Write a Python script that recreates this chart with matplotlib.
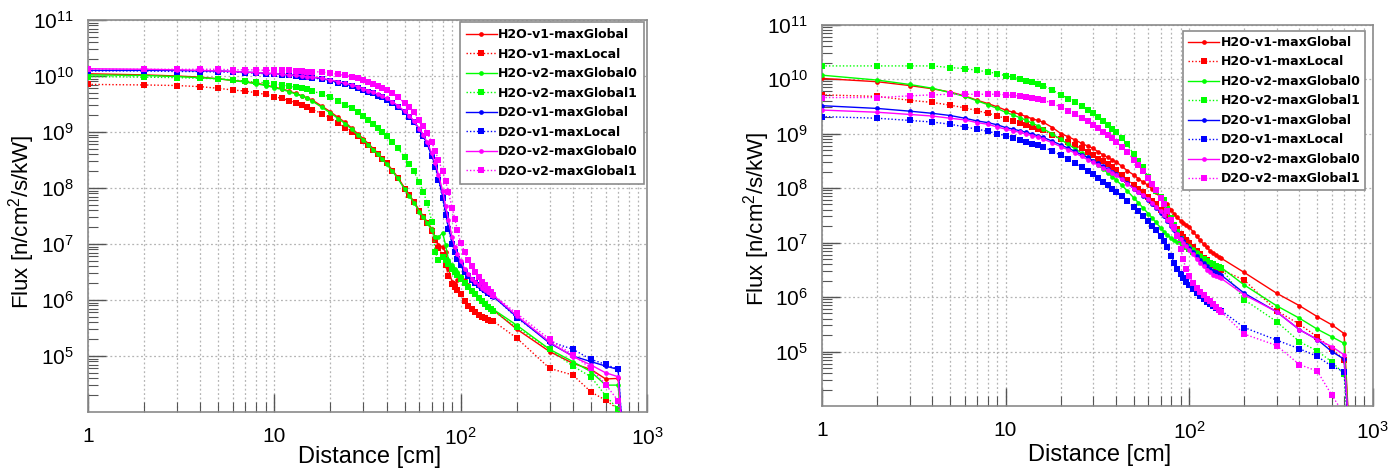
import numpy as np
import matplotlib
matplotlib.use('Agg')
import matplotlib.pyplot as plt
from matplotlib import font_manager as fm
from matplotlib.ticker import LogLocator, NullFormatter

names = {f.name for f in fm.fontManager.ttflist}
TF = 'Liberation Sans Narrow' if 'Liberation Sans Narrow' in names else 'Liberation Sans'
plt.rcParams['font.family'] = [TF, 'DejaVu Sans']
plt.rcParams['mathtext.fontset'] = 'custom'
plt.rcParams['mathtext.rm'] = TF
plt.rcParams['mathtext.it'] = TF
plt.rcParams['mathtext.bf'] = TF

# ---------------- data (log10 of flux in n/cm^2/s/kW) ----------------
distance_cm = [1, 2, 3, 4, 5, 6, 7, 8, 9, 10,
               11, 12, 13, 14, 15, 16,
               18, 20, 22, 24, 26, 28, 30, 32, 34, 36, 38, 40,
               43, 46, 50, 53, 56, 60, 63, 66, 70, 73, 76, 80, 83, 86, 90, 93, 96, 100,
               105, 110, 115, 120, 125, 130, 135, 140, 145, 150,
               200, 300, 400, 500, 600, 700,
               760]

series_labels = ['H2O-v1-maxGlobal', 'H2O-v1-maxLocal', 'H2O-v2-maxGlobal0', 'H2O-v2-maxGlobal1',
                 'D2O-v1-maxGlobal', 'D2O-v1-maxLocal', 'D2O-v2-maxGlobal0', 'D2O-v2-maxGlobal1']
series_colors = ['#ff0000', '#ff0000', '#00ff00', '#00ff00',
                 '#0000ff', '#0000ff', '#ff00ff', '#ff00ff']

x_tick_labels = ['1', '10', '$10^{2}$', '$10^{3}$']
y_tick_exponents = [5, 6, 7, 8, 9, 10, 11]

# ---- left panel ----
left_h2o_v1_maxGlobal = [10.04, 10.02, 10.00, 9.98, 9.95, 9.92, 9.90, 9.87, 9.84, 9.80,
    9.77, 9.73, 9.69, 9.65, 9.61, 9.57,
    9.46, 9.36, 9.26, 9.17, 9.07, 8.97, 8.88, 8.79, 8.70, 8.62, 8.53, 8.45,
    8.32, 8.19, 8.00, 7.88, 7.76, 7.60, 7.50, 7.40, 7.27, 7.12, 6.98, 6.95, 6.85, 6.55, 6.32, 6.28, 6.35, 6.40,
    6.36, 6.26, 6.17, 6.10, 6.04, 5.98, 5.93, 5.89, 5.85, 5.82,
    5.48, 5.08, 4.87, 4.76, 4.59, 4.60,
    3.0]
left_h2o_v1_maxLocal = [9.85, 9.84, 9.83, 9.81, 9.78, 9.75, 9.73, 9.70, 9.67, 9.63,
    9.60, 9.56, 9.52, 9.48, 9.44, 9.40,
    9.33, 9.25, 9.16, 9.08, 9.00, 8.92, 8.84, 8.76, 8.68, 8.60, 8.52, 8.44,
    8.31, 8.18, 7.99, 7.87, 7.75, 7.59, 7.48, 7.38, 7.24, 7.08, 6.92, 6.80, 6.62, 6.42, 6.28, 6.24, 6.18, 6.10,
    5.98, 5.90, 5.84, 5.78, 5.74, 5.70, 5.67, 5.65, 5.63, 5.62,
    5.32, 4.78, 4.66, 4.36, 4.21, 4.05,
    3.0]
left_h2o_v2_maxGlobal0 = [10.02, 10.01, 9.99, 9.97, 9.95, 9.92, 9.89, 9.86, 9.83, 9.79,
    9.76, 9.72, 9.68, 9.64, 9.60, 9.55,
    9.44, 9.34, 9.24, 9.15, 9.05, 8.95, 8.86, 8.77, 8.68, 8.60, 8.51, 8.43,
    8.30, 8.17, 7.98, 7.86, 7.74, 7.58, 7.48, 7.38, 7.25, 7.12, 7.12, 7.20, 6.98, 6.72, 6.62, 6.56, 6.50, 6.42,
    6.33, 6.25, 6.18, 6.12, 6.06, 6.00, 5.95, 5.90, 5.86, 5.83,
    5.55, 5.12, 4.90, 4.72, 4.48, 4.48,
    3.0]
left_h2o_v2_maxGlobal1 = [9.99, 9.98, 9.97, 9.96, 9.95, 9.93, 9.91, 9.89, 9.88, 9.86,
    9.84, 9.82, 9.80, 9.78, 9.76, 9.73,
    9.68, 9.62, 9.56, 9.49, 9.42, 9.35, 9.28, 9.21, 9.14, 9.07, 9.00, 8.93,
    8.82, 8.71, 8.55, 8.43, 8.30, 8.10, 7.93, 7.74, 7.40, 6.85, 6.72, 6.76, 6.72, 6.64, 6.55, 6.50, 6.44, 6.38,
    6.30, 6.23, 6.16, 6.10, 6.04, 5.98, 5.93, 5.88, 5.84, 5.80,
    5.51, 5.12, 4.82, 4.63, 4.29, 4.05,
    3.0]
left_d2o_v1_maxGlobal = [10.10, 10.10, 10.10, 10.09, 10.09, 10.08, 10.07, 10.06, 10.05, 10.04,
    10.03, 10.02, 10.01, 10.00, 9.99, 9.98,
    9.95, 9.92, 9.89, 9.86, 9.83, 9.80, 9.76, 9.73, 9.70, 9.66, 9.63, 9.59,
    9.53, 9.46, 9.36, 9.28, 9.19, 9.05, 8.93, 8.79, 8.58, 8.40, 8.18, 7.85, 7.55, 7.30, 7.02, 6.86, 6.74, 6.62,
    6.50, 6.42, 6.35, 6.30, 6.25, 6.20, 6.16, 6.12, 6.09, 6.06,
    5.70, 5.23, 5.00, 4.90, 4.82, 4.76,
    3.0]
left_d2o_v1_maxLocal = [10.09, 10.09, 10.08, 10.08, 10.07, 10.07, 10.06, 10.05, 10.04, 10.03,
    10.02, 10.01, 10.00, 9.99, 9.98, 9.97,
    9.94, 9.91, 9.88, 9.85, 9.82, 9.79, 9.75, 9.72, 9.69, 9.65, 9.62, 9.58,
    9.52, 9.45, 9.35, 9.27, 9.18, 9.04, 8.92, 8.78, 8.57, 8.38, 8.15, 7.82, 7.52, 7.27, 7.00, 6.85, 6.73, 6.62,
    6.50, 6.42, 6.36, 6.31, 6.26, 6.21, 6.17, 6.13, 6.10, 6.07,
    5.68, 5.26, 5.12, 4.94, 4.85, 4.76,
    3.0]
left_d2o_v2_maxGlobal0 = [10.13, 10.12, 10.11, 10.10, 10.09, 10.08, 10.07, 10.06, 10.05, 10.04,
    10.03, 10.02, 10.01, 10.00, 9.99, 9.98,
    9.96, 9.93, 9.90, 9.87, 9.84, 9.81, 9.77, 9.74, 9.71, 9.67, 9.64, 9.60,
    9.54, 9.47, 9.37, 9.29, 9.20, 9.06, 8.95, 8.82, 8.62, 8.44, 8.24, 7.95, 7.68, 7.42, 7.12, 6.95, 6.82, 6.70,
    6.56, 6.46, 6.38, 6.32, 6.27, 6.22, 6.18, 6.14, 6.11, 6.08,
    5.72, 5.25, 4.99, 4.84, 4.70, 4.63,
    3.0]
left_d2o_v2_maxGlobal1 = [10.12, 10.12, 10.12, 10.12, 10.12, 10.11, 10.11, 10.11, 10.10, 10.10,
    10.10, 10.10, 10.09, 10.09, 10.08, 10.08,
    10.07, 10.05, 10.03, 10.01, 9.99, 9.96, 9.92, 9.89, 9.86, 9.82, 9.79, 9.75,
    9.69, 9.62, 9.52, 9.44, 9.35, 9.22, 9.11, 8.99, 8.82, 8.66, 8.50, 8.30, 8.12, 7.92, 7.65, 7.45, 7.25, 7.02,
    6.86, 6.72, 6.60, 6.50, 6.41, 6.33, 6.26, 6.20, 6.14, 6.09,
    5.76, 5.30, 5.02, 4.78, 4.49, 4.20,
    3.0]

# ---- right panel ----
right_h2o_v1_maxGlobal = [10.01, 9.95, 9.88, 9.82, 9.76, 9.69, 9.61, 9.55, 9.49, 9.43,
    9.39, 9.35, 9.31, 9.27, 9.24, 9.21,
    9.11, 9.00, 8.94, 8.88, 8.82, 8.77, 8.73, 8.66, 8.61, 8.56, 8.52, 8.48,
    8.40, 8.32, 8.24, 8.17, 8.11, 8.05, 7.98, 7.92, 7.82, 7.76, 7.70, 7.60, 7.52, 7.46, 7.40, 7.36, 7.32, 7.29,
    7.20, 7.12, 7.04, 6.97, 6.91, 6.85, 6.81, 6.77, 6.74, 6.71,
    6.45, 6.07, 5.84, 5.64, 5.49, 5.33,
    3.0]
right_h2o_v1_maxLocal = [9.71, 9.68, 9.61, 9.57, 9.52, 9.47, 9.42, 9.37, 9.33, 9.27,
    9.23, 9.19, 9.15, 9.12, 9.09, 9.06,
    8.97, 8.90, 8.84, 8.78, 8.73, 8.66, 8.60, 8.54, 8.49, 8.44, 8.38, 8.33,
    8.24, 8.15, 8.05, 7.99, 7.92, 7.84, 7.77, 7.70, 7.60, 7.54, 7.48, 7.40, 7.32, 7.24, 7.15, 7.10, 7.05, 7.00,
    6.92, 6.85, 6.78, 6.72, 6.67, 6.62, 6.58, 6.54, 6.52, 6.50,
    6.31, 5.75, 5.50, 5.27, 5.05, 4.85,
    3.0]
right_h2o_v2_maxGlobal0 = [10.07, 9.98, 9.90, 9.83, 9.75, 9.68, 9.60, 9.53, 9.46, 9.39,
    9.34, 9.29, 9.24, 9.19, 9.14, 9.09,
    8.99, 8.89, 8.80, 8.72, 8.64, 8.56, 8.49, 8.42, 8.35, 8.28, 8.21, 8.15,
    8.05, 7.95, 7.82, 7.73, 7.64, 7.53, 7.45, 7.37, 7.27, 7.20, 7.14, 7.08, 7.04, 7.01, 6.99, 6.97, 6.96, 6.94,
    6.88, 6.82, 6.77, 6.72, 6.68, 6.64, 6.61, 6.58, 6.56, 6.54,
    6.22, 5.84, 5.61, 5.41, 5.27, 5.15,
    3.0]
right_h2o_v2_maxGlobal1 = [10.24, 10.24, 10.24, 10.24, 10.21, 10.19, 10.16, 10.13, 10.10, 10.06,
    10.03, 10.00, 9.97, 9.94, 9.91, 9.88,
    9.80, 9.71, 9.64, 9.57, 9.50, 9.43, 9.37, 9.30, 9.23, 9.16, 9.09, 9.02,
    8.91, 8.80, 8.62, 8.50, 8.38, 8.20, 8.08, 7.95, 7.84, 7.78, 7.62, 7.45, 7.33, 7.20, 7.06, 6.97, 6.92, 6.88,
    6.83, 6.79, 6.74, 6.70, 6.66, 6.63, 6.60, 6.57, 6.55, 6.53,
    5.95, 5.55, 5.18, 5.01, 4.81, 4.59,
    3.0]
right_d2o_v1_maxGlobal = [9.51, 9.46, 9.41, 9.37, 9.33, 9.28, 9.23, 9.20, 9.16, 9.11,
    9.08, 9.05, 9.02, 8.99, 8.96, 8.93,
    8.86, 8.79, 8.73, 8.67, 8.61, 8.56, 8.50, 8.45, 8.40, 8.35, 8.30, 8.25,
    8.17, 8.09, 7.99, 7.92, 7.86, 7.78, 7.71, 7.64, 7.55, 7.48, 7.40, 7.30, 7.23, 7.16, 7.08, 7.02, 6.96, 6.90,
    6.82, 6.75, 6.68, 6.62, 6.57, 6.52, 6.48, 6.45, 6.42, 6.40,
    6.07, 5.73, 5.40, 5.22, 5.00, 4.86,
    3.0]
right_d2o_v1_maxLocal = [9.31, 9.28, 9.24, 9.21, 9.17, 9.12, 9.08, 9.04, 9.00, 8.96,
    8.92, 8.88, 8.85, 8.81, 8.78, 8.75,
    8.68, 8.60, 8.53, 8.46, 8.39, 8.32, 8.25, 8.18, 8.11, 8.05, 7.99, 7.93,
    7.85, 7.76, 7.65, 7.57, 7.49, 7.39, 7.31, 7.23, 7.12, 7.03, 6.92, 6.75, 6.62, 6.52, 6.42, 6.35, 6.28, 6.22,
    6.14, 6.07, 6.01, 5.96, 5.91, 5.87, 5.84, 5.80, 5.77, 5.75,
    5.44, 5.21, 5.05, 4.91, 4.73, 4.63,
    3.0]
right_d2o_v2_maxGlobal0 = [9.43, 9.39, 9.35, 9.32, 9.28, 9.25, 9.20, 9.17, 9.12, 9.08,
    9.05, 9.02, 8.99, 8.96, 8.93, 8.90,
    8.83, 8.76, 8.70, 8.64, 8.58, 8.52, 8.47, 8.42, 8.37, 8.33, 8.28, 8.24,
    8.16, 8.08, 7.99, 7.93, 7.87, 7.80, 7.73, 7.66, 7.57, 7.50, 7.42, 7.32, 7.24, 7.16, 7.07, 7.00, 6.94, 6.87,
    6.78, 6.70, 6.62, 6.56, 6.50, 6.45, 6.41, 6.38, 6.36, 6.34,
    6.04, 5.73, 5.40, 5.22, 5.09, 4.94,
    3.0]
right_d2o_v2_maxGlobal1 = [9.66, 9.66, 9.69, 9.71, 9.72, 9.72, 9.72, 9.72, 9.72, 9.71,
    9.70, 9.69, 9.67, 9.65, 9.63, 9.61,
    9.56, 9.48, 9.42, 9.36, 9.29, 9.23, 9.16, 9.10, 9.03, 8.97, 8.91, 8.85,
    8.75, 8.66, 8.52, 8.42, 8.32, 8.18, 8.07, 7.96, 7.82, 7.70, 7.58, 7.42, 7.28, 7.12, 6.88, 6.70, 6.52, 6.38,
    6.26, 6.17, 6.10, 6.04, 5.97, 5.92, 5.87, 5.82, 5.77, 5.73,
    5.32, 5.11, 4.76, 4.64, 4.20, 3.85,
    3.0]

left_series = [left_h2o_v1_maxGlobal, left_h2o_v1_maxLocal, left_h2o_v2_maxGlobal0, left_h2o_v2_maxGlobal1,
               left_d2o_v1_maxGlobal, left_d2o_v1_maxLocal, left_d2o_v2_maxGlobal0, left_d2o_v2_maxGlobal1]
right_series = [right_h2o_v1_maxGlobal, right_h2o_v1_maxLocal, right_h2o_v2_maxGlobal0, right_h2o_v2_maxGlobal1,
                right_d2o_v1_maxGlobal, right_d2o_v1_maxLocal, right_d2o_v2_maxGlobal0, right_d2o_v2_maxGlobal1]

# ---------------- figure ----------------
fig = plt.figure(figsize=(14, 4.7), dpi=100)
ax_l = fig.add_axes([88/1400, 1-412/470, 559/1400, 392/470])
ax_r = fig.add_axes([822/1400, 1-406/470, 550.5/1400, 381.5/470])

GRID_C = '#b4b4b4'
FRAME_C = '#8a8a8a'


def draw_panel(ax, series, leg_anchor, leg_borderpad):
    x = np.array(distance_cm, dtype=float)
    handles = []
    for i, (vals, lab, col) in enumerate(zip(series, series_labels, series_colors)):
        y = 10.0 ** np.array(vals)
        if i % 2 == 0:
            h, = ax.plot(x, y, color=col, ls='-', lw=1.0, marker='o', ms=3.4, mew=0, zorder=3 + i)
        else:
            h, = ax.plot(x, y, color=col, ls=(0, (1, 1.5)), lw=1.0, marker='s', ms=4.4, mew=0, zorder=3 + i)
        handles.append(h)
    ax.set_xscale('log')
    ax.set_yscale('log')
    ax.set_xlim(1, 1000)
    ax.set_ylim(1e4, 1e11)
    ax.set_xticks([1, 10, 100, 1000])
    ax.set_xticklabels(x_tick_labels)
    ax.set_yticks([10.0 ** k for k in y_tick_exponents])
    ax.set_yticklabels(['$10^{%d}$' % k for k in y_tick_exponents])
    ax.xaxis.set_minor_locator(LogLocator(base=10, subs=np.arange(2, 10), numticks=20))
    ax.yaxis.set_minor_locator(LogLocator(base=10, subs=np.arange(2, 10), numticks=20))
    ax.xaxis.set_minor_formatter(NullFormatter())
    ax.yaxis.set_minor_formatter(NullFormatter())
    ax.tick_params(which='both', direction='in', top=False, right=False, colors='#555555', labelcolor='black')
    ax.tick_params(which='major', length=13, width=1.0, labelsize=15)
    ax.tick_params(which='minor', length=7, width=0.8)
    ax.tick_params(axis='x', which='major', pad=11)
    ax.tick_params(axis='y', which='major', pad=10)
    ax.grid(True, which='major', axis='both', ls=(0, (1.5, 2)), color=GRID_C, lw=0.9, zorder=0)
    ax.grid(True, which='minor', axis='x', ls=(0, (1.5, 2)), color=GRID_C, lw=0.9, zorder=0)
    ax.set_axisbelow(True)
    for sp in ax.spines.values():
        sp.set_color(FRAME_C)
        sp.set_linewidth(1.2)
    ax.set_xlabel('Distance [cm]', fontsize=17)
    ax.set_ylabel('Flux [n/cm$^{2}$/s/kW]', fontsize=16)
    leg = ax.legend(handles, series_labels, loc='upper right', bbox_to_anchor=leg_anchor,
                    prop=dict(family='DejaVu Sans', weight='bold', size=9.0),
                    frameon=True, fancybox=False, edgecolor='#8c8c8c', framealpha=1,
                    borderpad=leg_borderpad, labelspacing=0.52, handlelength=2.45, handletextpad=0.12,
                    borderaxespad=0)
    leg.get_frame().set_linewidth(1.2)
    leg.set_zorder(20)
    return leg


draw_panel(ax_l, left_series, (0.995, 0.995), 0.5)
draw_panel(ax_r, right_series, (0.987, 0.983), 0.4)

ax_l.xaxis.set_label_coords(0.504, -0.115)
ax_l.yaxis.set_label_coords(-0.118, 0.485)
ax_r.xaxis.set_label_coords(0.505, -0.128)
ax_r.yaxis.set_label_coords(-0.118, 0.49)
for a in (ax_l, ax_r):
    a.xaxis.label.set_va('center')
    a.yaxis.label.set_va('center')

fig.savefig('out.png', dpi=100)
